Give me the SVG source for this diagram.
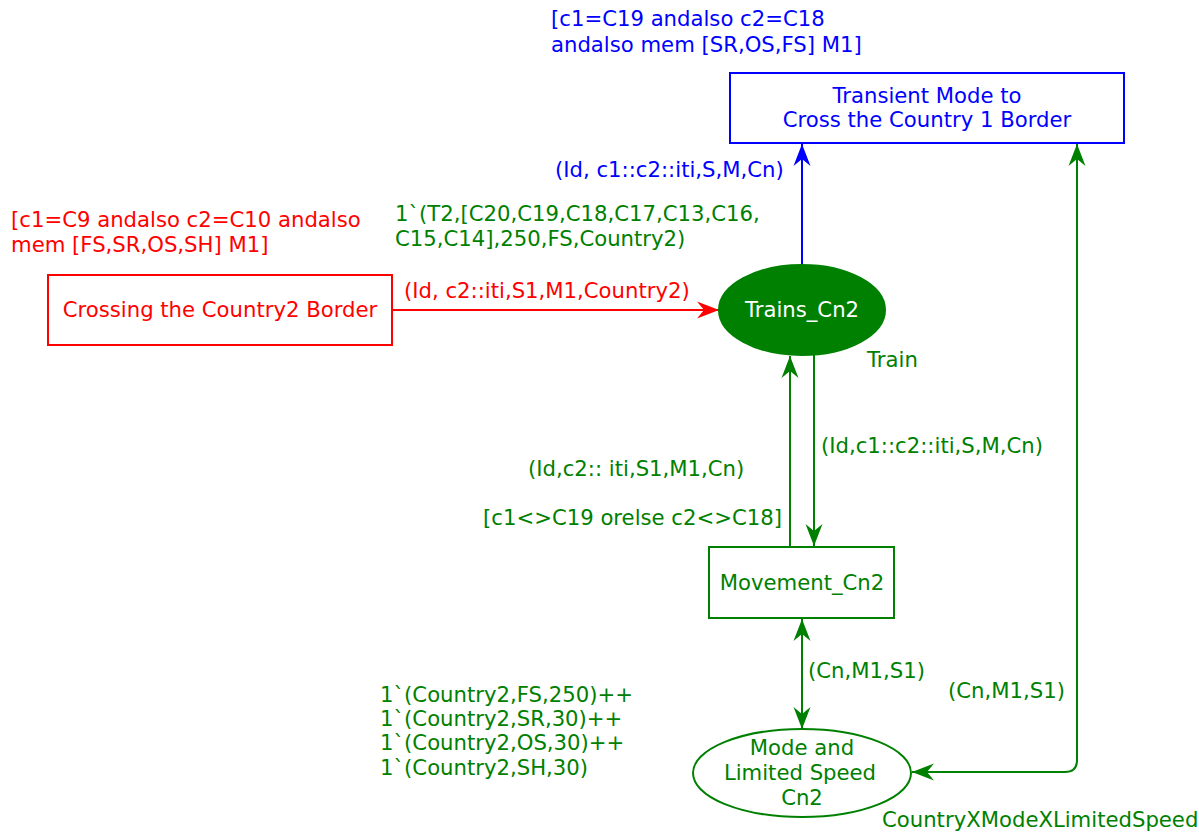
<svg xmlns="http://www.w3.org/2000/svg" width="1199" height="833" viewBox="0 0 1199 833">
<style>
text{font-family:"DejaVu Sans","Liberation Sans",sans-serif;font-size:21.2px}
.g{fill:#008000}.b{fill:#0000ff}.r{fill:#ff0000}.w{fill:#ffffff}
.m{text-anchor:middle}
.ln{fill:none;stroke-width:2}
</style>
<defs>
<marker id="ag" viewBox="-23 -10 24 20" refX="0" refY="0" markerWidth="24" markerHeight="20" markerUnits="userSpaceOnUse" orient="auto-start-reverse"><path d="M0,0 L-22,-8.5 L-15,0 L-22,8.5 Z" fill="#008000"/></marker>
<marker id="ab" viewBox="-23 -10 24 20" refX="0" refY="0" markerWidth="24" markerHeight="20" markerUnits="userSpaceOnUse" orient="auto-start-reverse"><path d="M0,0 L-22,-8.5 L-15,0 L-22,8.5 Z" fill="#0000ff"/></marker>
<marker id="ar" viewBox="-23 -10 24 20" refX="0" refY="0" markerWidth="24" markerHeight="20" markerUnits="userSpaceOnUse" orient="auto-start-reverse"><path d="M0,0 L-22,-8.5 L-15,0 L-22,8.5 Z" fill="#ff0000"/></marker>
</defs>
<g id="connectors">
<path class="ln" d="M802,265 V144" stroke="#0000ff" marker-end="url(#ab)"/>
<path class="ln" d="M392,310 H719" stroke="#ff0000" marker-end="url(#ar)"/>
<path class="ln" d="M790,547 V356" stroke="#008000" marker-end="url(#ag)"/>
<path class="ln" d="M814,355 V546" stroke="#008000" marker-end="url(#ag)"/>
<path class="ln" d="M802,619 V729" stroke="#008000" marker-start="url(#ag)" marker-end="url(#ag)"/>
<path class="ln" d="M912,772 H1065 Q1077,772 1077,760 V144" stroke="#008000" marker-start="url(#ag)" marker-end="url(#ag)"/>
<text class="b" x="555" y="177">(Id, c1::c2::iti,S,M,Cn)</text>
<text class="r" x="404" y="298">(Id, c2::iti,S1,M1,Country2)</text>
<text class="g" x="528" y="476">(Id,c2:: iti,S1,M1,Cn)</text>
<text class="g" x="483" y="525">[c1&lt;&gt;C19 orelse c2&lt;&gt;C18]</text>
<text class="g" x="821" y="453">(Id,c1::c2::iti,S,M,Cn)</text>
<text class="g" x="808" y="678">(Cn,M1,S1)</text>
<text class="g" x="948" y="698">(Cn,M1,S1)</text>
</g>
<g id="transient">
<rect x="730" y="73" width="394" height="70" fill="#ffffff" stroke="#0000ff" stroke-width="2"/>
<text class="b m" x="927" y="103">Transient Mode to</text>
<text class="b m" x="927" y="127">Cross the Country 1 Border</text>
<text class="b" x="551" y="26">[c1=C19 andalso c2=C18</text>
<text class="b" x="551" y="52">andalso mem [SR,OS,FS] M1]</text>
</g>
<g id="crossing">
<rect x="48" y="275" width="344" height="70" fill="#ffffff" stroke="#ff0000" stroke-width="2"/>
<text class="r m" x="220" y="317">Crossing the Country2 Border</text>
<text class="r" x="11" y="227">[c1=C9 andalso c2=C10 andalso</text>
<text class="r" x="11" y="252">mem [FS,SR,OS,SH] M1]</text>
</g>
<g id="trains">
<ellipse cx="802" cy="310" rx="83" ry="45" fill="#008000" stroke="#008000" stroke-width="2"/>
<text class="w m" x="802" y="317">Trains_Cn2</text>
<text class="g" x="867" y="367">Train</text>
<text class="g" x="395" y="221">1`(T2,[C20,C19,C18,C17,C13,C16,</text>
<text class="g" x="395" y="246">C15,C14],250,FS,Country2)</text>
</g>
<g id="movement">
<rect x="709" y="547" width="185" height="71" fill="#ffffff" stroke="#008000" stroke-width="2"/>
<text class="g m" x="802" y="590">Movement_Cn2</text>
</g>
<g id="mode">
<ellipse cx="802" cy="773" rx="109" ry="44" fill="#ffffff" stroke="#008000" stroke-width="2"/>
<text class="g m" x="802" y="755">Mode and</text>
<text class="g m" x="800" y="780">Limited Speed</text>
<text class="g m" x="802" y="805">Cn2</text>
<text class="g" x="882" y="827">CountryXModeXLimitedSpeed</text>
<text class="g" x="380" y="702">1`(Country2,FS,250)++</text>
<text class="g" x="380" y="726">1`(Country2,SR,30)++</text>
<text class="g" x="380" y="750">1`(Country2,OS,30)++</text>
<text class="g" x="380" y="775">1`(Country2,SH,30)</text>
</g>
</svg>
